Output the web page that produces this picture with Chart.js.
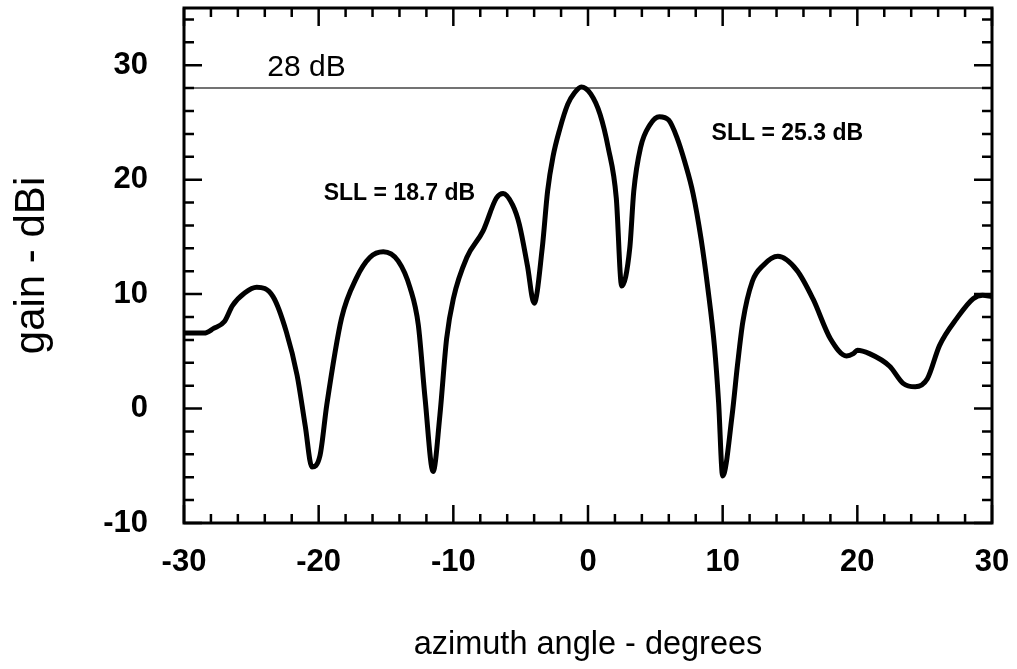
<!DOCTYPE html>
<html>
<head>
<meta charset="utf-8">
<script src="https://cdn.jsdelivr.net/npm/chart.js@4.4.1/dist/chart.umd.min.js"></script>
<style>
  html, body { margin: 0; padding: 0; background: #fff; }
  #wrap { width: 1017px; height: 669px; }
</style>
</head>
<body>
<div id="wrap"><canvas id="canvas" width="1017" height="669"></canvas></div>
<script>
const angles = [-30, -28.5, -27.8, -27, -26.4, -25.5, -24.6, -23.4, -22.4, -21.6, -21.0, -20.5, -19.9, -19.4,
  -18.3, -17.2, -16.2, -15.2, -14.1, -13.2, -12.6, -12.1, -11.5, -11.0, -10.5, -10.0, -9.0, -7.8, -6.8,
  -6.3, -5.6, -5.1, -4.5, -4.0, -3.4, -3.0, -2.6, -2.1, -1.5, -1.0, -0.5, 0.2, 0.9, 1.5, 2.1, 2.5, 3.1, 3.4, 3.9,
  4.6, 5.3, 6.0, 6.6, 7.2, 7.8, 8.4, 8.9, 9.4, 9.7, 10.0, 10.7, 11.1, 11.5, 12.2, 13.0, 14.1, 15.5, 16.7, 18.0,
  19.2, 19.7, 20.0, 20.9, 22.4, 23.4, 24.3, 25.2, 26.1, 27.4, 28.6, 29.3, 30];
const gains = [6.6, 6.6, 7.0, 7.6, 9.0, 10.1, 10.6, 9.8, 6.7, 2.9, -1.5, -5.1, -4.1, 0.3,
  7.9, 11.4, 13.2, 13.7, 12.9, 10.5, 7.3, 0.9, -5.5, -0.6, 6.1, 9.6, 13.2, 15.5, 18.4,
  18.8, 17.8, 16.1, 12.5, 9.2, 14.0, 19.0, 22.0, 24.4, 26.6, 27.6, 28.1, 27.5, 25.7, 22.8, 18.4, 10.7, 14.0, 19.0, 22.8,
  24.8, 25.5, 25.2, 23.7, 21.5, 18.8, 14.8, 10.5, 5.3, 0.5, -5.9, -0.6, 3.8, 7.6, 11.1, 12.5, 13.3, 12.1, 9.6, 6.1,
  4.6, 4.8, 5.1, 4.8, 3.7, 2.2, 1.9, 2.6, 5.5, 7.9, 9.6, 9.9, 9.8];

const refLevel = 28;           // main beam reference line
const xTickLabels = [-30, -20, -10, 0, 10, 20, 30];
const yTickLabels = [-10, 0, 10, 20, 30];
const minorStep = 2;

// text notes, placed in data units
const notes = [
  { x: -20.9, y: 29.8, text: '28 dB', font: '30px "Liberation Sans"' },
  { x: -14.0, y: 18.8, text: 'SLL = 18.7 dB', font: 'bold 23px "Liberation Sans"' },
  { x: 14.8, y: 24.0, text: 'SLL = 25.3 dB', font: 'bold 23px "Liberation Sans"' }
];

const curve = angles.map((a, i) => ({ x: a, y: gains[i] }));

// frame + inward ticks on all four sides, plus the text notes
const framePlugin = {
  id: 'frame',
  afterDraw(chart) {
    const { ctx, chartArea: a, scales: { x, y } } = chart;
    ctx.save();
    ctx.strokeStyle = '#000';
    ctx.lineWidth = 3;
    ctx.strokeRect(a.left, a.top, a.right - a.left, a.bottom - a.top);
    ctx.lineWidth = 2.5;
    ctx.beginPath();
    for (let v = x.min; v <= x.max + 1e-9; v += minorStep) {
      const px = x.getPixelForValue(v);
      const len = xTickLabels.includes(v) ? 18 : 9;
      ctx.moveTo(px, a.bottom); ctx.lineTo(px, a.bottom - len);
      ctx.moveTo(px, a.top); ctx.lineTo(px, a.top + len);
    }
    for (let v = y.min; v <= y.max + 1e-9; v += minorStep) {
      const py = y.getPixelForValue(v);
      const len = yTickLabels.includes(v) ? 18 : 10;
      ctx.moveTo(a.left, py); ctx.lineTo(a.left + len, py);
      ctx.moveTo(a.right, py); ctx.lineTo(a.right - len, py);
    }
    ctx.stroke();

    ctx.fillStyle = '#000';
    ctx.textAlign = 'center';
    ctx.textBaseline = 'middle';
    notes.forEach(n => {
      ctx.font = n.font;
      ctx.fillText(n.text, x.getPixelForValue(n.x), y.getPixelForValue(n.y));
    });
    ctx.restore();
  }
};

const ctx = document.getElementById('canvas').getContext('2d');
const myChart = new Chart(ctx, {
  type: 'line',
  data: {
    datasets: [{
      label: 'gain',
      data: curve,
      borderColor: '#000',
      borderWidth: 5,
      pointRadius: 0,
      fill: false,
      cubicInterpolationMode: 'monotone'
    }, {
      label: '28 dB',
      data: [{ x: -30, y: refLevel }, { x: 30, y: refLevel }],
      borderColor: '#444',
      borderWidth: 1.5,
      pointRadius: 0,
      fill: false
    }]
  },
  options: {
    responsive: false,
    animation: false,
    events: [],
    layout: { padding: { left: 0, top: 8, right: 25, bottom: 0 } },
    plugins: { legend: { display: false }, tooltip: { enabled: false } },
    scales: {
      x: {
        type: 'linear',
        min: -30,
        max: 30,
        afterBuildTicks: s => { s.ticks = xTickLabels.map(v => ({ value: v })); },
        afterFit: s => { s.height = 146; s.paddingLeft = 0; s.paddingRight = 0; },
        grid: { display: false, drawTicks: false },
        border: { display: false },
        ticks: {
          color: '#000',
          padding: 21,
          maxRotation: 0,
          font: { family: 'Liberation Sans', size: 31, weight: 'bold' }
        },
        title: {
          display: true,
          text: 'azimuth angle - degrees',
          color: '#000',
          font: { family: 'Liberation Sans', size: 32.5 },
          padding: { top: 0, bottom: 4 }
        }
      },
      y: {
        min: -10,
        max: 35,
        afterBuildTicks: s => { s.ticks = yTickLabels.map(v => ({ value: v })); },
        afterFit: s => { s.width = 184; s.paddingTop = 0; s.paddingBottom = 0; },
        grid: { display: false, drawTicks: false },
        border: { display: false },
        ticks: {
          color: '#000',
          padding: 36,
          font: { family: 'Liberation Sans', size: 31, weight: 'bold' }
        },
        title: {
          display: true,
          text: 'gain - dBi',
          color: '#000',
          font: { family: 'Liberation Sans', size: 42 },
          padding: { top: 7, bottom: 0 }
        }
      }
    }
  },
  plugins: [framePlugin]
});
</script>
</body>
</html>
